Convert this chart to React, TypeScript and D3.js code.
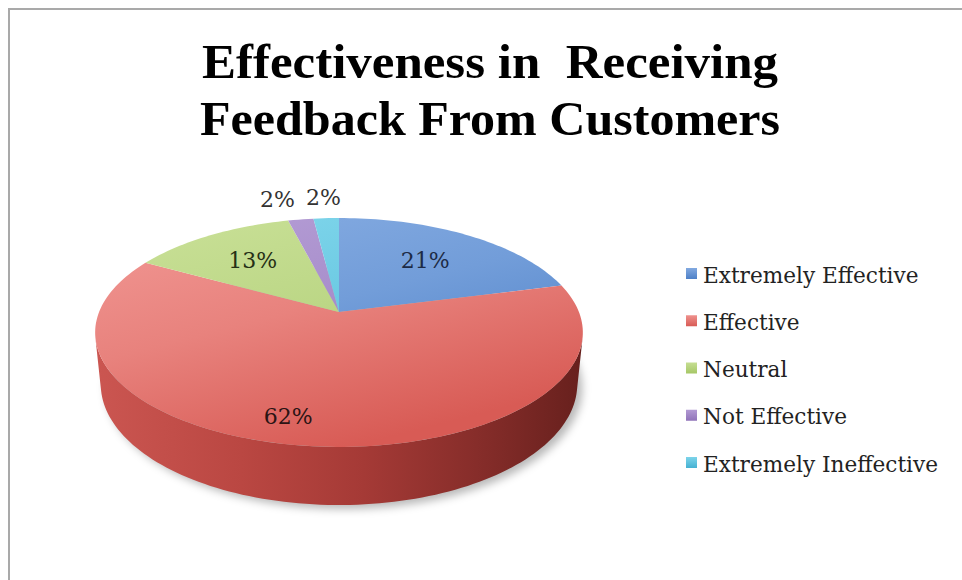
import React from 'react';
import * as d3 from 'd3';

// ---------- data ----------
const categories = ['Extremely Effective', 'Effective', 'Neutral', 'Not Effective', 'Extremely Ineffective'];
const values = [21, 62, 13, 2, 2];
const pctLabels = ['21%', '62%', '13%', '2%', '2%'];
const titleLines = ['Effectiveness in  Receiving', 'Feedback From Customers'];

// ---------- styles ----------
const topLight = ['#82a9e0', '#ef928e', '#c6de93', '#b29ad3', '#7dd4ea'];
const topDark = ['#4d80c7', '#d85b55', '#a6c766', '#9073b9', '#45b1d2'];
const labelColors = ['#1d2b45', '#2b1414', '#263016', '#333333', '#333333'];

// ---------- layout / projection ----------
const W = 962, H = 580;
const CX = 339, CY = 312, FOCAL = 1190, DIST = 4.96;
const PHI = (27.5 * Math.PI) / 180;
const SN = Math.sin(PHI), CS = Math.cos(PHI);
const THICK = 0.245;
// label placement: radius factor and angle shift (deg) per slice
const LABEL_PLACE = [
  { r: 0.64, da: 0 },
  { r: 0.83, da: 5.4 },
  { r: 0.64, da: 0 },
  { r: 1.27, da: 0, outside: true },
  { r: 1.27, da: 0, outside: true },
];

function project(r: number, a: number, h: number): [number, number] {
  const u = r * Math.sin(a);
  const v = -r * Math.cos(a);
  const zc = DIST - v * CS - h * SN;
  return [CX + (FOCAL * u) / zc, CY + (FOCAL * (v * SN - h * CS)) / zc];
}

function arcPts(a0: number, a1: number, h: number): [number, number][] {
  const n = Math.max(2, Math.ceil(((a1 - a0) * 180) / Math.PI / 1.5));
  const pts: [number, number][] = [];
  for (let i = 0; i <= n; i++) pts.push(project(1, a0 + ((a1 - a0) * i) / n, h));
  return pts;
}

const line = d3.line<[number, number]>().x(d => d[0]).y(d => d[1]);

export default function App() {
  const arcs = d3.pie<number>().sort(null).value(d => d)(values);

  // visible (front-facing) wall range
  const k = 1 / (DIST * CS);
  const A0 = Math.acos(-k);
  const A1 = 2 * Math.PI - A0;

  const walls = arcs
    .map((a, i) => {
      const s = Math.max(a.startAngle, A0);
      const e = Math.min(a.endAngle, A1);
      if (e <= s) return null;
      const top = arcPts(s, e, 0);
      const bot = arcPts(s, e, -THICK).reverse();
      return { i, d: line([...top, ...bot])! + 'Z' };
    })
    .filter(Boolean) as { i: number; d: string }[];

  const tops = arcs.map((a, i) => {
    const pts = [project(0, 0, 0), ...arcPts(a.startAngle, a.endAngle, 0)];
    return { i, d: line(pts)! + 'Z' };
  });

  const shadowPts = arcPts(0, 2 * Math.PI, -THICK);
  const shadowD = line(shadowPts)! + 'Z';

  // labels
  const labelPos = arcs.map((a, i) => {
    const p = LABEL_PLACE[i];
    const mid = (a.startAngle + a.endAngle) / 2 + (p.da * Math.PI) / 180;
    const [x, y] = project(p.r, mid, 0);
    return { i, x, y, outside: !!p.outside };
  });
  // resolve overlap of outside labels: push earlier ones left
  const outs = labelPos.filter(l => l.outside);
  const minGap = 46;
  for (let j = outs.length - 2; j >= 0; j--) {
    if (outs[j + 1].x - outs[j].x < minGap) outs[j].x = outs[j + 1].x - minGap;
  }

  const legendY = d3.scalePoint<string>().domain(categories).range([275, 464]);

  return (
    <svg width={W} height={H} style={{ position: 'absolute', left: 0, top: 0, background: '#fff' }}>
      <defs>
        {categories.map((c, i) => (
          <linearGradient key={c} id={`top${i}`} gradientUnits="userSpaceOnUse" x1={CX - 60} y1={215} x2={CX} y2={450}>
            <stop offset="0" stopColor={topLight[i]} />
            <stop offset="0.4" stopColor={d3.interpolateRgb(topLight[i], topDark[i])(0.3)} />
            <stop offset="1" stopColor={topDark[i]} />
          </linearGradient>
        ))}
        {categories.map((c, i) => (
          <linearGradient key={c} id={`leg${i}`} x1="0" y1="0" x2="0" y2="1">
            <stop offset="0" stopColor={topLight[i]} />
            <stop offset="1" stopColor={topDark[i]} />
          </linearGradient>
        ))}
        <linearGradient id="wall" gradientUnits="userSpaceOnUse" x1={95} y1={0} x2={583} y2={0}>
          <stop offset="0" stopColor="#cb5651" />
          <stop offset="0.3" stopColor="#ba4742" />
          <stop offset="0.55" stopColor="#a53a36" />
          <stop offset="0.8" stopColor="#842c29" />
          <stop offset="1" stopColor="#67201d" />
        </linearGradient>
        <filter id="blur" x="-20%" y="-20%" width="140%" height="140%">
          <feGaussianBlur stdDeviation="4" />
        </filter>
      </defs>

      <rect x={0} y={0} width={W} height={H} fill="#fff" />
      <path d={`M9,${H} V9 H${W}`} fill="none" stroke="#a9a9a9" strokeWidth={2} />

      {/* title */}
      {titleLines.map((t, i) => (
        <text
          key={t}
          x={490}
          y={78 + i * 57}
          textAnchor="middle"
          fontFamily="'Liberation Serif', serif"
          fontWeight="bold"
          fontSize={48}
          fill="#000"
          textLength={i === 0 ? 576 : 580}
          lengthAdjust="spacingAndGlyphs"
          style={{ whiteSpace: 'pre' }}
        >
          {t}
        </text>
      ))}

      {/* shadow */}
      <path d={shadowD} transform="translate(5,4)" fill="rgba(0,0,0,0.28)" filter="url(#blur)" />

      {/* walls */}
      {walls.map(w => (
        <path key={`w${w.i}`} d={w.d} fill="url(#wall)" />
      ))}

      {/* tops */}
      {tops.map(t => (
        <path key={`t${t.i}`} d={t.d} fill={`url(#top${t.i})`} />
      ))}

      {/* data labels */}
      {labelPos.map(l => (
        <text
          key={`l${l.i}`}
          x={l.x}
          y={l.y}
          textAnchor="middle"
          dominantBaseline="central"
          fontFamily="'DejaVu Serif', serif"
          fontSize={22}
          fill={labelColors[l.i]}
        >
          {pctLabels[l.i]}
        </text>
      ))}

      {/* legend */}
      {categories.map((c, i) => (
        <g key={`g${i}`} transform={`translate(686,${legendY(c)})`}>
          <rect x={0} y={-7} width={11} height={11} fill={`url(#leg${i})`} />
          <text x={17} y={0} dominantBaseline="central" fontFamily="'DejaVu Serif', serif" fontSize={21.6} fill="#222">
            {c}
          </text>
        </g>
      ))}
    </svg>
  );
}
